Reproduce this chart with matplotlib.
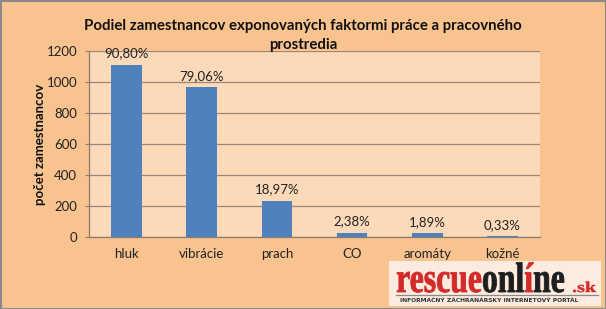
import matplotlib
matplotlib.use("Agg")
import matplotlib.pyplot as plt
from matplotlib.textpath import TextPath, text_to_path
from matplotlib.patches import PathPatch, Rectangle
from matplotlib.font_manager import FontProperties
from matplotlib.transforms import Affine2D, IdentityTransform
from matplotlib.lines import Line2D

categories = ["hluk", "vibrácie", "prach", "CO", "aromáty", "kožné"]
values = [1109, 965, 232, 29, 23, 4]
pct_labels = ["90,80%", "79,06%", "18,97%", "2,38%", "1,89%", "0,33%"]
yticks = [0, 200, 400, 600, 800, 1000, 1200]
title_lines = ["Podiel zamestnancov exponovaných faktormi práce a pracovného", "prostredia"]
ylabel = "počet zamestnancov"

W, H = 606, 309
fig = plt.figure(figsize=(W / 100, H / 100), dpi=100, facecolor="#F9C390")
font = "Lato"

ax = fig.add_axes([89 / W, 1 - 237 / H, (540 - 89) / W, (237 - 51) / H])
ax.set_facecolor("#FCD9B9")
x = list(range(len(categories)))
ax.bar(x, values, width=0.41, color="#4F81BD", zorder=3)
ax.set_xlim(-0.5, len(categories) - 0.5)
ax.set_ylim(0, 1200)
ax.set_yticks(yticks)
ax.set_yticklabels([str(t) for t in yticks], fontsize=9.5, family=font, color="#222222")
ax.set_xticks(x)
ax.set_xticklabels(categories, fontsize=9.5, family=font, color="#222222")
ax.tick_params(axis="x", length=0, pad=8)
ax.tick_params(axis="y", length=3, color="#8C7C70", pad=5.5)
ax.yaxis.grid(True, color="#9C8878", linewidth=0.9, zorder=0)
for s in ["top", "right"]:
    ax.spines[s].set_visible(False)
for s in ["left", "bottom"]:
    ax.spines[s].set_color("#8C7C70")
    ax.spines[s].set_linewidth(0.9)

for xi, v, lab in zip(x, values, pct_labels):
    ax.annotate(lab, (xi, v), xytext=(0, 4), textcoords="offset points",
                ha="center", va="bottom", fontsize=9.5, family=font, color="#222222",
                zorder=5)

fig.text(40 / W, 1 - 144 / H, ylabel, rotation=90, ha="center", va="center",
         fontsize=9.5, family=font, fontweight="bold", color="#111111")
for i, line in enumerate(title_lines):
    fig.text(0.5, 1 - (26 + 19 * i) / H, line, ha="center", va="center", fontsize=10.8,
             family=font, fontweight="bold", color="#111111")

# outer border
fig.add_artist(Rectangle((0.5, 0.5), W - 1, H - 1, transform=IdentityTransform(),
                         fill=False, edgecolor="#8A8A8A", linewidth=1.5))

# logo
fig.add_artist(Rectangle((389, H - 306), 212, 45, transform=IdentityTransform(),
                         facecolor="#FBECDF", edgecolor="none", zorder=5))
prop = FontProperties(family="Liberation Serif", weight="bold")
prop40 = FontProperties(family="Liberation Serif", weight="bold", size=40)
segments = [("rescue", "#D42A2A"), ("onl", "#1E1E1E"), ("í", "#D42A2A"), ("ne", "#1E1E1E")]
full = "".join(s for s, _ in segments)
fp = TextPath((0, 0), full, size=40, prop=prop)
ext = fp.get_extents()
xh = TextPath((0, 0), "x", size=40, prop=prop).get_extents().y1
sx = (564 - 397) / ext.width
sy = 19.5 / xh
x0, base = 397, H - 292
off = 0.0
prefix = ""
for s, c in segments:
    p = TextPath((off, 0), s, size=40, prop=prop)
    tr = Affine2D().translate(-ext.x0, 0).scale(sx, sy).translate(x0, base)
    fig.add_artist(PathPatch(p, transform=tr, facecolor=c, edgecolor=c, linewidth=0.6, zorder=6))
    prefix += s
    off = text_to_path.get_text_width_height_descent(prefix, prop40, ismath=False)[0]
sk = TextPath((0, 0), ".sk", size=40, prop=prop)
se = sk.get_extents()
tr = Affine2D().translate(-se.x0, 0).scale((596 - 573) / se.width, 10.5 / se.y1).translate(573, base)
fig.add_artist(PathPatch(sk, transform=tr, facecolor="#D42A2A", edgecolor="#D42A2A", linewidth=0.3, zorder=6))
fig.add_artist(Line2D([396, 598], [H - 295, H - 295], transform=IdentityTransform(),
                      color="#8A8A8A", linewidth=0.9, zorder=6))
fig.text(400 / W, 1 - 300.5 / H, "INFORMAČNÝ ZÁCHRANÁRSKY INTERNETOVÝ PORTÁL", fontsize=4.3,
         family="DejaVu Sans", fontweight="bold", color="#333333", ha="left", va="center", zorder=7)

fig.savefig("out.png", dpi=100, facecolor=fig.get_facecolor())
